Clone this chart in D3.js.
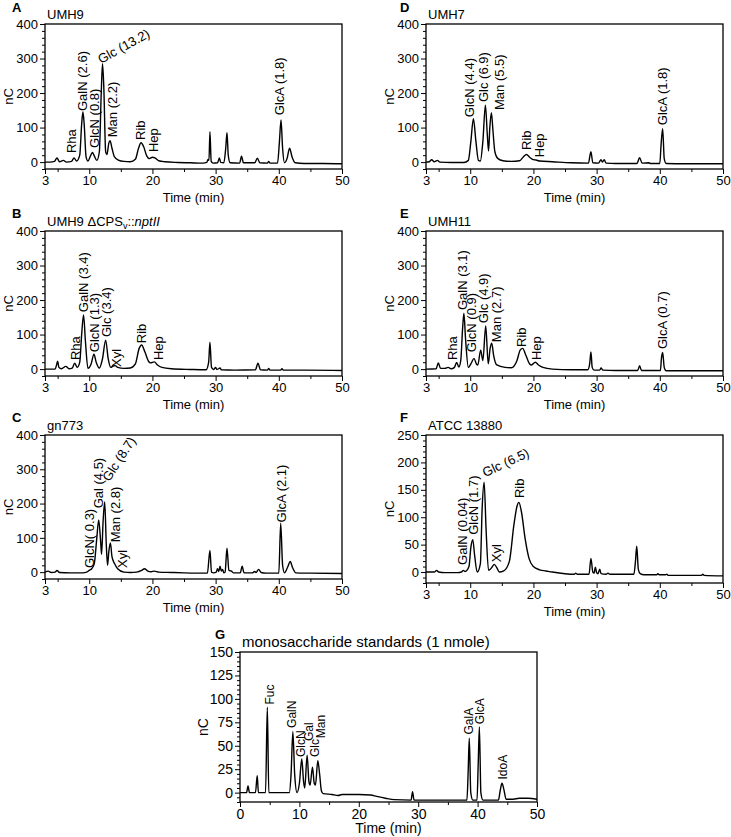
<!DOCTYPE html>
<html><head><meta charset="utf-8">
<script src="https://cdn.jsdelivr.net/npm/d3@7"></script>
<style>
body{margin:0;background:#fff}
text{font-family:"Liberation Sans",Arial,Helvetica,sans-serif;fill:#000}
</style>
</head><body>
<svg id="chart" width="731" height="837"></svg>
<script>
// ---------------- DATA ----------------
const xTicksStrain = [3, 10, 20, 30, 40, 50];
const xMinorStrain = [5, 15, 25, 35, 45];
const xTicksStd = [0, 10, 20, 30, 40, 50];
const xMinorStd = [5, 15, 25, 35, 45];
const yTicks400 = [0, 100, 200, 300, 400];
const yMinor400 = [-20, 20, 40, 60, 80, 120, 140, 160, 180, 220, 240, 260, 280, 320, 340, 360, 380];
const yTicks250 = [0, 50, 100, 150, 200, 250];
const yMinor250 = [-20, -10, 10, 20, 30, 40, 60, 70, 80, 90, 110, 120, 130, 140, 160, 170, 180, 190, 210, 220, 230, 240];
const yTicks150 = [0, 25, 50, 75, 100, 125, 150];
const yMinor150 = [-10, -5, 5, 10, 15, 20, 30, 35, 40, 45, 55, 60, 65, 70, 80, 85, 90, 95, 105, 110, 115, 120, 130, 135, 140, 145];

// traces: [time (min), response (nC)]
const traceUMH9 = [[3,0],[3.8,0],[4.5,2],[4.9,12],[5.3,1],[5.9,5],[6.4,0],[7.2,2],[7.6,12],[8.0,3],[8.5,20],[8.8,110],[9.0,145],[9.2,110],[9.5,15],[9.8,3],[10.2,18],[10.5,28],[10.8,18],[11.2,5],[11.6,30],[11.9,200],[12.1,285],[12.3,220],[12.6,30],[12.8,22],[13.1,55],[13.3,62],[13.6,40],[14.0,15],[14.6,6],[15.5,2],[16.5,1],[17.3,8],[17.8,40],[18.2,56],[18.6,45],[19.1,18],[19.5,10],[20.0,14],[20.4,12],[21.0,4],[22,1],[24,-1],[26,-2],[28,-3],[28.6,-1],[28.8,8],[28.95,5],[29.1,88],[29.3,2],[29.6,-3],[30.3,-2],[30.6,12],[30.8,-1],[31.3,-2],[31.6,40],[31.8,85],[32.0,20],[32.3,-2],[33.8,-3],[34.1,17],[34.4,-2],[36.2,-2],[36.6,11],[37.0,-2],[38.2,-3],[38.4,2],[38.6,-3],[39.8,-3],[40.1,60],[40.35,122],[40.6,40],[40.9,-2],[41.3,10],[41.7,40],[42.1,15],[42.6,-2],[44,-4],[47,-4],[50,-5]];
const traceUMH9cps = [[3,0],[4.6,0],[4.8,10],[5.0,23],[5.2,5],[5.6,1],[6.3,8],[6.8,1],[7.3,3],[7.7,17],[8.1,5],[8.5,20],[8.8,100],[9.1,157],[9.4,80],[9.8,2],[10.3,15],[10.75,43],[11.1,20],[11.6,3],[12.1,30],[12.6,84],[13.0,30],[13.4,5],[13.8,9],[14.1,10],[14.5,5],[15.5,2],[16.5,3],[17.3,15],[17.9,60],[18.3,70],[18.8,50],[19.4,22],[19.7,18],[20.3,21],[20.8,12],[21.5,5],[23,1],[26,-1],[28.5,-2],[28.9,20],[29.1,78],[29.35,5],[29.7,-1],[30.0,5],[30.2,-1],[30.7,3],[30.9,-2],[33,-3],[36.3,-2],[36.7,17],[37.1,-2],[38.2,-3],[38.4,2],[38.6,-3],[40.3,-3],[40.5,1],[40.7,-3],[44,-3],[50,-4]];
const traceGn773 = [[3,0],[3.5,3],[4.0,-1],[4.6,0],[4.9,5],[5.3,-1],[7,-2],[9,-2],[9.6,0],[10.0,5],[10.4,10],[10.8,25],[11.2,100],[11.5,152],[11.8,90],[11.95,52],[12.2,150],[12.45,205],[12.7,80],[12.9,20],[13.1,60],[13.35,85],[13.6,45],[14.0,25],[14.5,10],[15.5,0],[16.5,-1],[17.5,0],[18.3,5],[18.75,10],[19.2,4],[19.8,1],[20.3,3],[21,0],[23,-1],[25,-2],[28.7,-3],[29.1,63],[29.35,0],[29.7,-2],[30.1,0],[30.3,10],[30.5,2],[30.7,17],[30.9,3],[31.1,8],[31.3,-2],[31.5,0],[31.8,70],[32.1,5],[32.5,3],[32.8,-2],[33.9,-2],[34.2,17],[34.5,-2],[35.8,-2],[36.2,2],[36.4,-1],[36.8,8],[37.2,-1],[38,-3],[40.0,-3],[40.3,143],[40.6,20],[40.9,-2],[41.4,15],[41.8,31],[42.2,12],[42.7,-2],[45,-3],[50,-4]];
const traceUMH7 = [[3,0],[3.5,1],[3.9,7],[4.3,1],[4.8,5],[5.2,0],[7,-1],[9,-1],[9.7,5],[10.1,60],[10.5,126],[10.9,60],[11.3,5],[11.6,3],[12.0,60],[12.4,165],[12.7,80],[12.9,32],[13.1,100],[13.35,143],[13.6,90],[13.9,30],[14.4,10],[15.2,4],[16.5,2],[17.8,4],[18.4,15],[18.9,22],[19.4,14],[20.0,7],[20.4,6],[21,3],[23,1],[26,-2],[28.7,-3],[29.1,30],[29.4,-2],[30.3,-3],[30.7,7],[30.9,0],[31.2,7],[31.5,-3],[33,-4],[36.4,-4],[36.8,13],[37.2,-3],[38.3,-2],[38.5,-4],[40.0,-4],[40.2,50],[40.45,97],[40.7,10],[41.0,-4],[44,-5],[50,-5]];
const traceUMH11 = [[3,0],[4.6,1],[4.95,18],[5.3,2],[6.0,2],[6.5,5],[7.0,1],[7.5,5],[7.85,19],[8.2,6],[8.5,25],[8.8,120],[9.0,162],[9.25,90],[9.7,5],[10.1,15],[10.6,31],[11.0,14],[11.2,12],[11.65,55],[12.0,25],[12.45,125],[12.85,15],[13.15,60],[13.4,75],[13.7,40],[14.2,12],[15.5,5],[16.5,4],[17.4,25],[17.9,55],[18.3,60],[18.8,40],[19.4,15],[19.7,12],[20.3,20],[20.8,12],[21.5,5],[23,0],[26,-2],[28.6,-2],[28.9,15],[29.1,50],[29.3,5],[29.6,-3],[30.5,-3],[30.7,3],[31.0,-3],[33,-4],[36.5,-4],[36.8,10],[37.1,-4],[38.3,-4],[40.1,-4],[40.25,30],[40.45,48],[40.7,5],[41.0,-5],[44,-5],[50,-5]];
const traceATCC = [[3,0],[4.3,0],[4.7,3],[5.0,0],[6,-1],[8,-1],[8.6,0],[8.9,3],[9.2,1],[9.8,10],[10.1,45],[10.4,59],[10.7,30],[11.1,0],[11.6,15],[11.9,120],[12.2,164],[12.5,80],[12.9,3],[13.4,8],[13.8,14],[14.2,8],[14.6,0],[15.3,2],[16.2,20],[16.9,85],[17.4,120],[17.7,127],[18.1,110],[18.7,60],[19.3,25],[20.0,10],[21,4],[22,2],[23,0],[25,-3],[26.5,-4],[26.7,-2],[26.9,-4],[28.8,-4],[29.1,25],[29.4,0],[29.6,-2],[29.8,9],[30.0,-1],[30.2,-3],[30.5,5],[30.7,-3],[31.5,-4],[31.8,-2],[32.1,-4],[35.9,-4],[36.15,20],[36.35,47],[36.6,5],[36.9,-3],[37.5,-5],[39.5,-5],[39.7,-3],[39.9,-5],[40.9,-5],[41.1,-4],[41.3,-6],[45,-6],[46.6,-6],[46.8,-4],[47.0,-6],[50,-7]];
const traceStandards = [[0,0],[1.1,0],[1.35,7],[1.6,0],[2.6,0],[2.9,18],[3.1,0],[4.3,0],[4.6,91],[4.85,0],[8.3,0],[8.6,20],[8.9,65],[9.2,20],[9.6,0],[10.0,10],[10.4,36],[10.7,12],[10.9,5],[11.3,40],[11.6,12],[11.8,8],[12.2,27],[12.5,10],[12.7,8],[13.1,34],[13.4,20],[13.7,2],[14.0,-1],[15.5,-2],[16.5,-3],[17.2,-2],[20,-2],[22,-2.5],[23,-4],[24.5,-6],[26,-7.5],[28.8,-8],[29.05,1],[29.3,-8],[35,-8],[38.2,-8],[38.4,20],[38.6,58],[38.85,0],[39.2,-8],[39.9,-8],[40.1,30],[40.3,70],[40.55,0],[40.9,-8],[43.5,-8],[43.8,2],[44.1,10],[44.4,4],[44.8,-7],[46,-7],[47,-6],[48.5,-6],[50,-7]];

// peak labels: [text, time, nC, rotation]
const labelsUMH9 = [["Rha",7.83,26,-90],["GalN (2.6)",9.57,148,-90],["GlcN (0.8)",11.47,41,-90],["Glc (13.2)",11.86,284,-29],["Man (2.2)",14.47,72,-90],["Rib",18.75,64,-90],["Hep",20.96,29,-90],["GlcA (1.8)",40.9,136,-90]];
const labelsUMH9cps = [["Rha",8.46,26,-90],["GalN (3.4)",9.88,165,-90],["GlcN (1.3)",11.62,49,-90],["Glc (3.4)",13.37,93,-90],["Xyl",15.1,6,-90],["Rib",19.06,75,-90],["Hep",21.6,26,-90]];
const labelsGn773 = [["GlcN( 0.3)",10.68,12,-90],["Gal (4.5)",12.1,186,-90],["Glc (8.7)",13.15,262,-57],["Man (2.8)",14.79,87,-90],["Xyl",15.9,12,-90],["GlcA (2.1)",41.2,145,-90]];
const labelsUMH7 = [["GlcN (4.4)",10.52,130,-90],["Glc (6.9)",12.89,174,-90],["Man (5.5)",15.42,151,-90],["Rib",19.54,35,-90],["Hep",21.6,14,-90],["GlcA (1.8)",41.06,107,-90]];
const labelsUMH11 = [["Rha",7.83,26,-90],["GalN (3.1)",9.41,171,-90],["GlcN (0.9)",10.99,49,-90],["Glc (4.9)",12.89,133,-90],["Man (2.7)",14.79,78,-90],["Rib",18.9,64,-90],["Hep",21.12,26,-90],["GlcA (0.7)",41.2,58,-90]];
const labelsATCC = [["GalN (0.04)",9.41,13,-90],["GlcN (1.7)",11.15,68,-90],["Glc (6.5)",12.34,173,-25],["Xyl",14.79,18,-90],["Rib",18.43,135,-90]];
const labelsStandards = [["Fuc",5.64,94,-90],["GalN",9.43,69,-90],["GlcN",10.94,38,-90],["Gal",12.37,55,-90],["Glc",13.3,38,-90],["Man",14.3,58,-90],["GalA",39.3,62,-90],["GlcA",41.1,73,-90],["IdoA",44.9,14,-90]];

// ---------------- LAYOUT ----------------
const panels = [
  {letter:"A", title:[["UMH9"]], trace:traceUMH9, labels:labelsUMH9, xDomain:[3,50], xTicks:xTicksStrain, xMinor:xMinorStrain, yDomain:[-20,400], yTicks:yTicks400, yMinor:yMinor400, left:45, right:342, top:24, bottom:169, letterX:12, fs:13, tfs:13, lfs:13},
  {letter:"B", title:[["UMH9 \u0394CPS"],["v","sub"],["::"],["nptII","it"]], trace:traceUMH9cps, labels:labelsUMH9cps, xDomain:[3,50], xTicks:xTicksStrain, xMinor:xMinorStrain, yDomain:[-20,400], yTicks:yTicks400, yMinor:yMinor400, left:45, right:342, top:231, bottom:376, letterX:12, fs:13, tfs:13, lfs:13},
  {letter:"C", title:[["gn773"]], trace:traceGn773, labels:labelsGn773, xDomain:[3,50], xTicks:xTicksStrain, xMinor:xMinorStrain, yDomain:[-20,400], yTicks:yTicks400, yMinor:yMinor400, left:45, right:342, top:435, bottom:579, letterX:12, fs:13, tfs:13, lfs:13},
  {letter:"D", title:[["UMH7"]], trace:traceUMH7, labels:labelsUMH7, xDomain:[3,50], xTicks:xTicksStrain, xMinor:xMinorStrain, yDomain:[-20,400], yTicks:yTicks400, yMinor:yMinor400, left:426, right:723, top:24, bottom:169, letterX:400, fs:13, tfs:13, lfs:13},
  {letter:"E", title:[["UMH11"]], trace:traceUMH11, labels:labelsUMH11, xDomain:[3,50], xTicks:xTicksStrain, xMinor:xMinorStrain, yDomain:[-20,400], yTicks:yTicks400, yMinor:yMinor400, left:426, right:723, top:231, bottom:376, letterX:400, fs:13, tfs:13, lfs:13},
  {letter:"F", title:[["ATCC 13880"]], trace:traceATCC, labels:labelsATCC, xDomain:[3,50], xTicks:xTicksStrain, xMinor:xMinorStrain, yDomain:[-20,250], yTicks:yTicks250, yMinor:yMinor250, left:426, right:723, top:435, bottom:583, letterX:400, fs:13, tfs:13, lfs:13},
  {letter:"G", title:[["monosaccharide standards (1 nmole)"]], trace:traceStandards, labels:labelsStandards, xDomain:[0,50], xTicks:xTicksStd, xMinor:xMinorStd, yDomain:[-10,150], yTicks:yTicks150, yMinor:yMinor150, left:240, right:537, top:652, bottom:802, letterX:215, fs:14, tfs:15, lfs:12}
];

const svg = d3.select("#chart");

panels.forEach(p => {
  const g = svg.append("g");
  const x = d3.scaleLinear().domain(p.xDomain).range([p.left, p.right]);
  const y = d3.scaleLinear().domain(p.yDomain).range([p.bottom, p.top]);
  const fs = p.fs;

  // minor ticks
  g.append("g").attr("transform", `translate(${p.left},0)`)
    .call(d3.axisLeft(y).tickValues(p.yMinor).tickSize(3).tickFormat(""))
    .call(a => a.select(".domain").remove());
  g.append("g").attr("transform", `translate(0,${p.bottom})`)
    .call(d3.axisBottom(x).tickValues(p.xMinor).tickSize(3).tickFormat(""))
    .call(a => a.select(".domain").remove());
  // major ticks
  const ya = g.append("g").attr("transform", `translate(${p.left},0)`)
    .call(d3.axisLeft(y).tickValues(p.yTicks).tickSize(5).tickPadding(2).tickFormat(d3.format("d")))
    .call(a => a.select(".domain").remove());
  ya.selectAll("text").style("font-size", fs + "px").style("font-family", "Liberation Sans, Arial, sans-serif");
  const xa = g.append("g").attr("transform", `translate(0,${p.bottom})`)
    .call(d3.axisBottom(x).tickValues(p.xTicks).tickSize(5).tickPadding(2).tickFormat(d3.format("d")))
    .call(a => a.select(".domain").remove());
  xa.selectAll("text").style("font-size", fs + "px").style("font-family", "Liberation Sans, Arial, sans-serif");
  g.selectAll(".tick line").attr("stroke", "#000").attr("stroke-width", 1);

  // frame
  g.append("rect").attr("x", p.left).attr("y", p.top)
    .attr("width", p.right - p.left).attr("height", p.bottom - p.top)
    .attr("fill", "none").attr("stroke", "#000").attr("stroke-width", 1.3);

  // trace
  const line = d3.line().x(d => x(d[0])).y(d => y(d[1])).curve(d3.curveMonotoneX);
  g.append("path").datum(p.trace).attr("d", line)
    .attr("fill", "none").attr("stroke", "#000").attr("stroke-width", 1.4)
    .attr("stroke-linejoin", "round");

  // peak labels
  p.labels.forEach(([t, tx, ty, rot]) => {
    g.append("text")
      .attr("transform", `translate(${x(tx)},${y(ty)}) rotate(${rot})`)
      .attr("text-anchor", "start")
      .style("font-size", p.lfs + "px")
      .text(t);
  });

  // axis titles
  const cx = (p.left + p.right) / 2;
  g.append("text").attr("x", cx).attr("y", p.bottom + (fs === 14 ? 31 : 33))
    .attr("text-anchor", "middle").style("font-size", fs + "px").text("Time (min)");
  g.append("text")
    .attr("transform", `translate(${p.left - 32},${(p.top + p.bottom) / 2}) rotate(-90)`)
    .attr("text-anchor", "middle").style("font-size", fs + "px").text("nC");

  // panel title
  const tt = g.append("text").attr("x", p.left + 2).attr("y", p.top - 5).style("font-size", p.tfs + "px");
  p.title.forEach(([s, kind]) => {
    const ts = tt.append("tspan").text(s);
    if (kind === "sub") ts.attr("dy", 3).style("font-size", (p.tfs - 4) + "px");
    if (kind === "it") ts.style("font-style", "italic");
    if (kind !== "sub" && s === "::") ts.attr("dy", -3);
  });

  // panel letter
  g.append("text").attr("x", p.letterX).attr("y", Math.max(p.top - 13, 12))
    .style("font-size", "13px").style("font-weight", "bold").text(p.letter);
});
</script>
</body></html>
